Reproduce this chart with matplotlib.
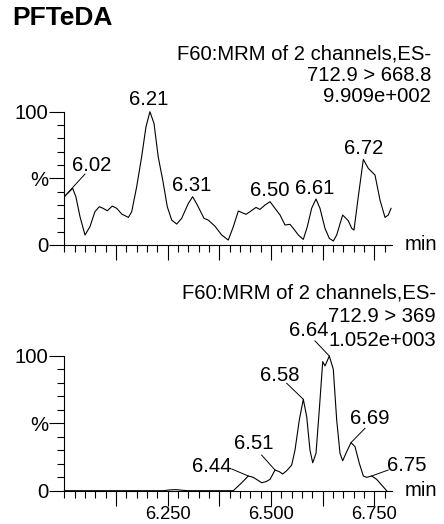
import numpy as np
import matplotlib
matplotlib.use("Agg")
import matplotlib.pyplot as plt
from matplotlib.ticker import MultipleLocator, FuncFormatter

plt.rcParams['font.family'] = ['Liberation Sans', 'DejaVu Sans']

# ---- data ----
# channel 1: 712.9 > 668.8  (time in min, intensity in %)
t_top = [6.0017, 6.0203, 6.028, 6.038, 6.050, 6.062, 6.074, 6.0846, 6.094, 6.104,
         6.116, 6.1267, 6.139, 6.155, 6.163, 6.175, 6.187, 6.1975, 6.207, 6.2169,
         6.227, 6.238, 6.249, 6.2597, 6.2717, 6.2838, 6.2999, 6.3104, 6.3216, 6.3378,
         6.348, 6.364, 6.3806, 6.3965, 6.4086, 6.4207, 6.4393, 6.449, 6.4635, 6.473,
         6.4853, 6.4974, 6.5095, 6.5216, 6.5337, 6.5457, 6.5537, 6.5658, 6.5779, 6.5875,
         6.598, 6.6086, 6.6182, 6.6303, 6.6407, 6.6504, 6.6586, 6.673, 6.6867, 6.6949,
         6.7004, 6.7108, 6.723, 6.735, 6.7512, 6.7633, 6.7754, 6.7834, 6.790]
i_top = [36.8, 42.5, 36.2, 21.2, 7.5, 13.7, 25, 28.7, 27.5, 25.7,
         29.2, 27.5, 23.2, 20.7, 25, 43.7, 66.2, 88.7, 100, 91.2,
         66.2, 48.7, 28.7, 18.7, 15.7, 20, 31.2, 36.2, 30, 20,
         18.7, 14.2, 7.5, 3.7, 13.7, 25.5, 23, 25, 28.2, 26.7,
         30, 32.5, 27.5, 22.5, 15, 15.5, 12.5, 7.5, 4.2, 13.7,
         27.5, 34.5, 27.5, 12.5, 5, 3, 7.5, 22.5, 18.2, 12.5,
         11.2, 36.2, 64.2, 57.5, 52.5, 33.7, 20.7, 22.5, 27.5]

# channel 2: 712.9 > 369
t_bot = [6.000, 6.240, 6.255, 6.270, 6.285, 6.300, 6.4086, 6.4289, 6.4449, 6.457,
         6.4773, 6.4877, 6.4974, 6.5095, 6.5198, 6.528, 6.5377, 6.5498, 6.5578, 6.5682,
         6.5779, 6.5861, 6.594, 6.6006, 6.6086, 6.6165, 6.6248, 6.6303, 6.6359, 6.6407,
         6.6504, 6.6586, 6.6666, 6.6731, 6.6828, 6.6932, 6.7029, 6.7133, 6.723, 6.7311,
         6.7432, 6.7553, 6.765, 6.7795]
i_bot = [0, 0, 0.6, 0.8, 0.3, 0, 0, 5.9, 10.9, 9.9,
         5.9, 6.7, 8.4, 15.3, 14.1, 12.4, 14.8, 19, 30.1, 52.4,
         67.7, 54.8, 30.1, 20.7, 27.7, 59.8, 95.6, 92.4, 96.3, 99.8,
         89.9, 52.4, 27.7, 22.2, 28.9, 35.6, 32.6, 20.3, 10.9, 9.9,
         10.9, 8.4, 5, 0]

# peak labels: text, text position (t, %), leader line (t0, y0, t1, y1) or None
peaks_top = [("6.02", 6.066, 60, (6.0017, 36.8, 6.0499, 53.2)),
             ("6.21", 6.203, 109, None),
             ("6.31", 6.308, 45, None),
             ("6.50", 6.497, 40.7, None),
             ("6.61", 6.606, 42.5, None),
             ("6.72", 6.723, 72.5, None)]
peaks_bot = [("6.44", 6.356, 17.8, (6.4449, 10.9, 6.4047, 16.1)),
             ("6.51", 6.457, 35.1, (6.5095, 15.3, 6.477, 26.4)),
             ("6.58", 6.5215, 85.7, (6.5779, 67.7, 6.5377, 79.6)),
             ("6.64", 6.590, 119, (6.6407, 99.8, 6.606, 111)),
             ("6.69", 6.739, 53.6, (6.6932, 35.6, 6.727, 46.2)),
             ("6.75", 6.828, 19, (6.7432, 10.9, 6.783, 15.3))]

head_top = ["F60:MRM of 2 channels,ES-", "712.9 > 668.8", "9.909e+002"]
head_bot = ["F60:MRM of 2 channels,ES-", "712.9 > 369", "1.052e+003"]

W, H = 444, 524
fig = plt.figure(figsize=(W / 100, H / 100), dpi=100)

x0, x1 = 6.0, 6.7916
fs = 14.6


def setup(ax, t, y, peaks, show_labels):
    ax.plot(t, y, color='black', lw=0.8, clip_on=False)
    ax.set_xlim(x0, x1)
    ax.set_ylim(0, 100)
    for s in ['top', 'right']:
        ax.spines[s].set_visible(False)
    ax.spines['left'].set_linewidth(0.8)
    ax.spines['bottom'].set_linewidth(0.8)
    ax.patch.set_alpha(0)
    # y ticks
    ax.set_yticks([0, 50, 100])
    ax.set_yticklabels(['0', '%', '100'])
    ax.yaxis.set_minor_locator(MultipleLocator(10))
    ax.tick_params(axis='y', which='major', length=11, width=0.8, pad=0.5, labelsize=fs)
    ax.tick_params(axis='y', which='minor', length=5, width=0.8)
    # x ticks
    ax.set_xticks(np.arange(6.125, 6.80, 0.125))
    ax.xaxis.set_minor_locator(MultipleLocator(0.025))
    if show_labels:
        ax.xaxis.set_major_formatter(FuncFormatter(
            lambda v, p: f"{v:.3f}" if abs(v / 0.25 - round(v / 0.25)) < 1e-6 else ""))
    else:
        ax.set_xticklabels([])
    ax.tick_params(axis='x', which='major', length=10.5, width=0.8, pad=0.3, labelsize=13.2)
    ax.tick_params(axis='x', which='minor', length=5, width=0.8)
    for txt, tx, ty, lead in peaks:
        ax.text(tx, ty, txt, ha='center', va='center', fontsize=fs, clip_on=False)
        if lead is not None:
            ax.plot([lead[0], lead[2]], [lead[1], lead[3]], color='black', lw=0.7, clip_on=False)
    ax.text(1.04, 0, "min", transform=ax.transAxes, ha='left', va='center', fontsize=fs)


ax1 = fig.add_axes([64.3 / W, (H - 245) / H, 327.4 / W, 133.3 / H])
setup(ax1, t_top, i_top, peaks_top, False)
ax2 = fig.add_axes([64.3 / W, (H - 490.7) / H, 327.4 / W, 135 / H])
setup(ax2, t_bot, i_bot, peaks_bot, True)

fig.text(12 / W, 1 - 18 / H, "PFTeDA", ha='left', va='center', fontsize=19, fontweight='bold')

for k, line in enumerate(head_top):
    fig.text(431 / W, 1 - (54 + 21.5 * k) / H, line, ha='right', va='center', fontsize=fs)
ys_bot = [293, 316, 341]
for k, line in enumerate(head_bot):
    fig.text(436 / W, 1 - ys_bot[k] / H, line, ha='right', va='center', fontsize=fs)

fig.savefig("out.png", dpi=100)
